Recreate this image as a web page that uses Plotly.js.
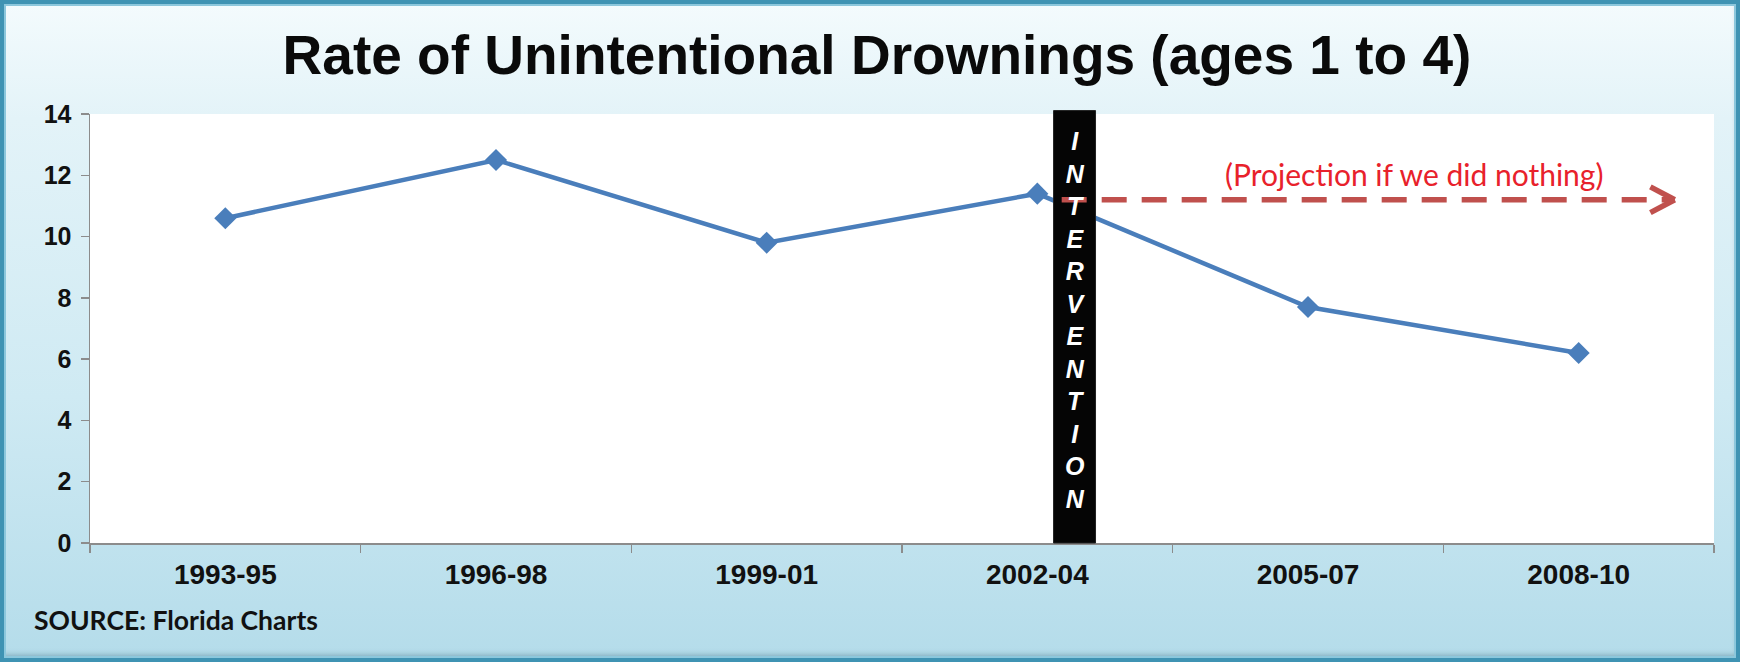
<!DOCTYPE html>
<html>
<head>
<meta charset="utf-8">
<script src="https://cdn.plot.ly/plotly-3.0.1.min.js"></script>
<style>
  html, body { margin: 0; padding: 0; }
  #chart {
    width: 1740px; height: 662px; box-sizing: border-box;
    background: linear-gradient(to bottom, #f4fbfd 0%, #e3f3f8 18%, #cfeaf3 60%, #b4dcea 100%);
    box-shadow: inset 0 0 0 4px #3f93b3, inset 0 0 0 6px #8cc7dc, inset -2px -6px 6px rgba(40,90,110,0.5);
  }
</style>
</head>
<body>
<div id="chart"></div>
<script>
// ---- data ----
const periods = ["1993-95", "1996-98", "1999-01", "2002-04", "2005-07", "2008-10"];
const drowningRates = [10.6, 12.5, 9.8, 11.4, 7.7, 6.2];
const projectionLevel = 11.2;
const projectionLabel = "(Projection if we did nothing)";
const interventionWord = "INTERVENTION";
const chartTitle = "Rate of Unintentional Drownings (ages 1 to 4)";
const sourceNote = "SOURCE: Florida Charts";

// ---- layout helpers (category index positions) ----
const barX0 = 3.06, barX1 = 3.215;
const projStart = 3.09, projEnd = 5.355;
const arrowDx = 0.09, arrowDy = 0.42;

const trace = {
  x: periods,
  y: drowningRates,
  type: "scatter",
  mode: "lines+markers",
  line: { color: "#4a7ebb", width: 4.5 },
  marker: { symbol: "diamond", size: 17, color: "#4a7ebb" },
  hoverinfo: "x+y"
};

const shapes = [
  { type: "rect", xref: "x", yref: "paper", x0: barX0, x1: barX1, y0: 0, y1: 1.008,
    fillcolor: "#050505", line: { color: "#222", width: 1 }, layer: "above" },
  { type: "line", xref: "x", yref: "y", x0: projStart, x1: projEnd - 0.01, y0: projectionLevel, y1: projectionLevel,
    line: { color: "#c0504d", width: 5.5, dash: "25px,15px" }, layer: "above" },
  { type: "line", xref: "x", yref: "y", x0: projEnd - arrowDx, x1: projEnd, y0: projectionLevel + arrowDy, y1: projectionLevel,
    line: { color: "#c0504d", width: 5.5 }, layer: "above" },
  { type: "line", xref: "x", yref: "y", x0: projEnd - arrowDx, x1: projEnd, y0: projectionLevel - arrowDy, y1: projectionLevel,
    line: { color: "#c0504d", width: 5.5 }, layer: "above" }
];

const annotations = [
  { xref: "x", yref: "y", x: (barX0 + barX1) / 2, y: 7.29, showarrow: false,
    text: "<b><i>" + interventionWord.split("").join("<br>") + "</i></b>",
    font: { family: "Liberation Sans, Arial, sans-serif", size: 25, color: "#ffffff" },
    align: "center", xanchor: "center", yanchor: "middle" },
  { xref: "x", yref: "y", x: 4.39, y: 12.05, showarrow: false,
    text: projectionLabel,
    font: { family: "Lato, Carlito, Calibri, sans-serif", size: 30, color: "#e8212b" },
    xanchor: "center", yanchor: "middle" },
  { xref: "paper", yref: "paper", x: -0.036, y: -0.18, showarrow: false,
    text: "<b>" + sourceNote + "</b>",
    font: { family: "Lato, Carlito, Calibri, sans-serif", size: 26.5, color: "#111111" },
    xanchor: "left", yanchor: "middle" }
];

const layout = {
  width: 1740, height: 662,
  margin: { l: 90, r: 26, t: 114, b: 119 },
  paper_bgcolor: "rgba(0,0,0,0)",
  plot_bgcolor: "#ffffff",
  showlegend: false,
  title: {
    text: "<b>" + chartTitle + "</b>",
    font: { family: "Liberation Sans, Arial, sans-serif", size: 55, color: "#0a0a0a" },
    x: 0.504, xref: "container", xanchor: "center",
    y: 0.918, yref: "container", yanchor: "middle"
  },
  xaxis: {
    type: "category",
    range: [-0.5, 5.5],
    showgrid: false, zeroline: false,
    showline: true, linecolor: "#8c8c8c", linewidth: 1.5,
    ticks: "outside", ticklen: 8, tickcolor: "#8c8c8c", tickwidth: 1.5,
    tickson: "boundaries",
    ticklabelstandoff: 6,
    tickfont: { family: "Liberation Sans, Arial, sans-serif", size: 28, color: "#111111", weight: "bold" },
    fixedrange: true
  },
  yaxis: {
    range: [0, 14], dtick: 2,
    showgrid: false, zeroline: false,
    showline: true, linecolor: "#8c8c8c", linewidth: 1.5,
    ticks: "outside", ticklen: 8, tickcolor: "#8c8c8c", tickwidth: 1.5,
    tickfont: { family: "Liberation Sans, Arial, sans-serif", size: 25, color: "#111111", weight: "bold" },
    ticklabelstandoff: 4,
    fixedrange: true
  },
  shapes: shapes,
  annotations: annotations
};

Plotly.newPlot("chart", [trace], layout, { displayModeBar: false, staticPlot: true });
</script>
</body>
</html>
